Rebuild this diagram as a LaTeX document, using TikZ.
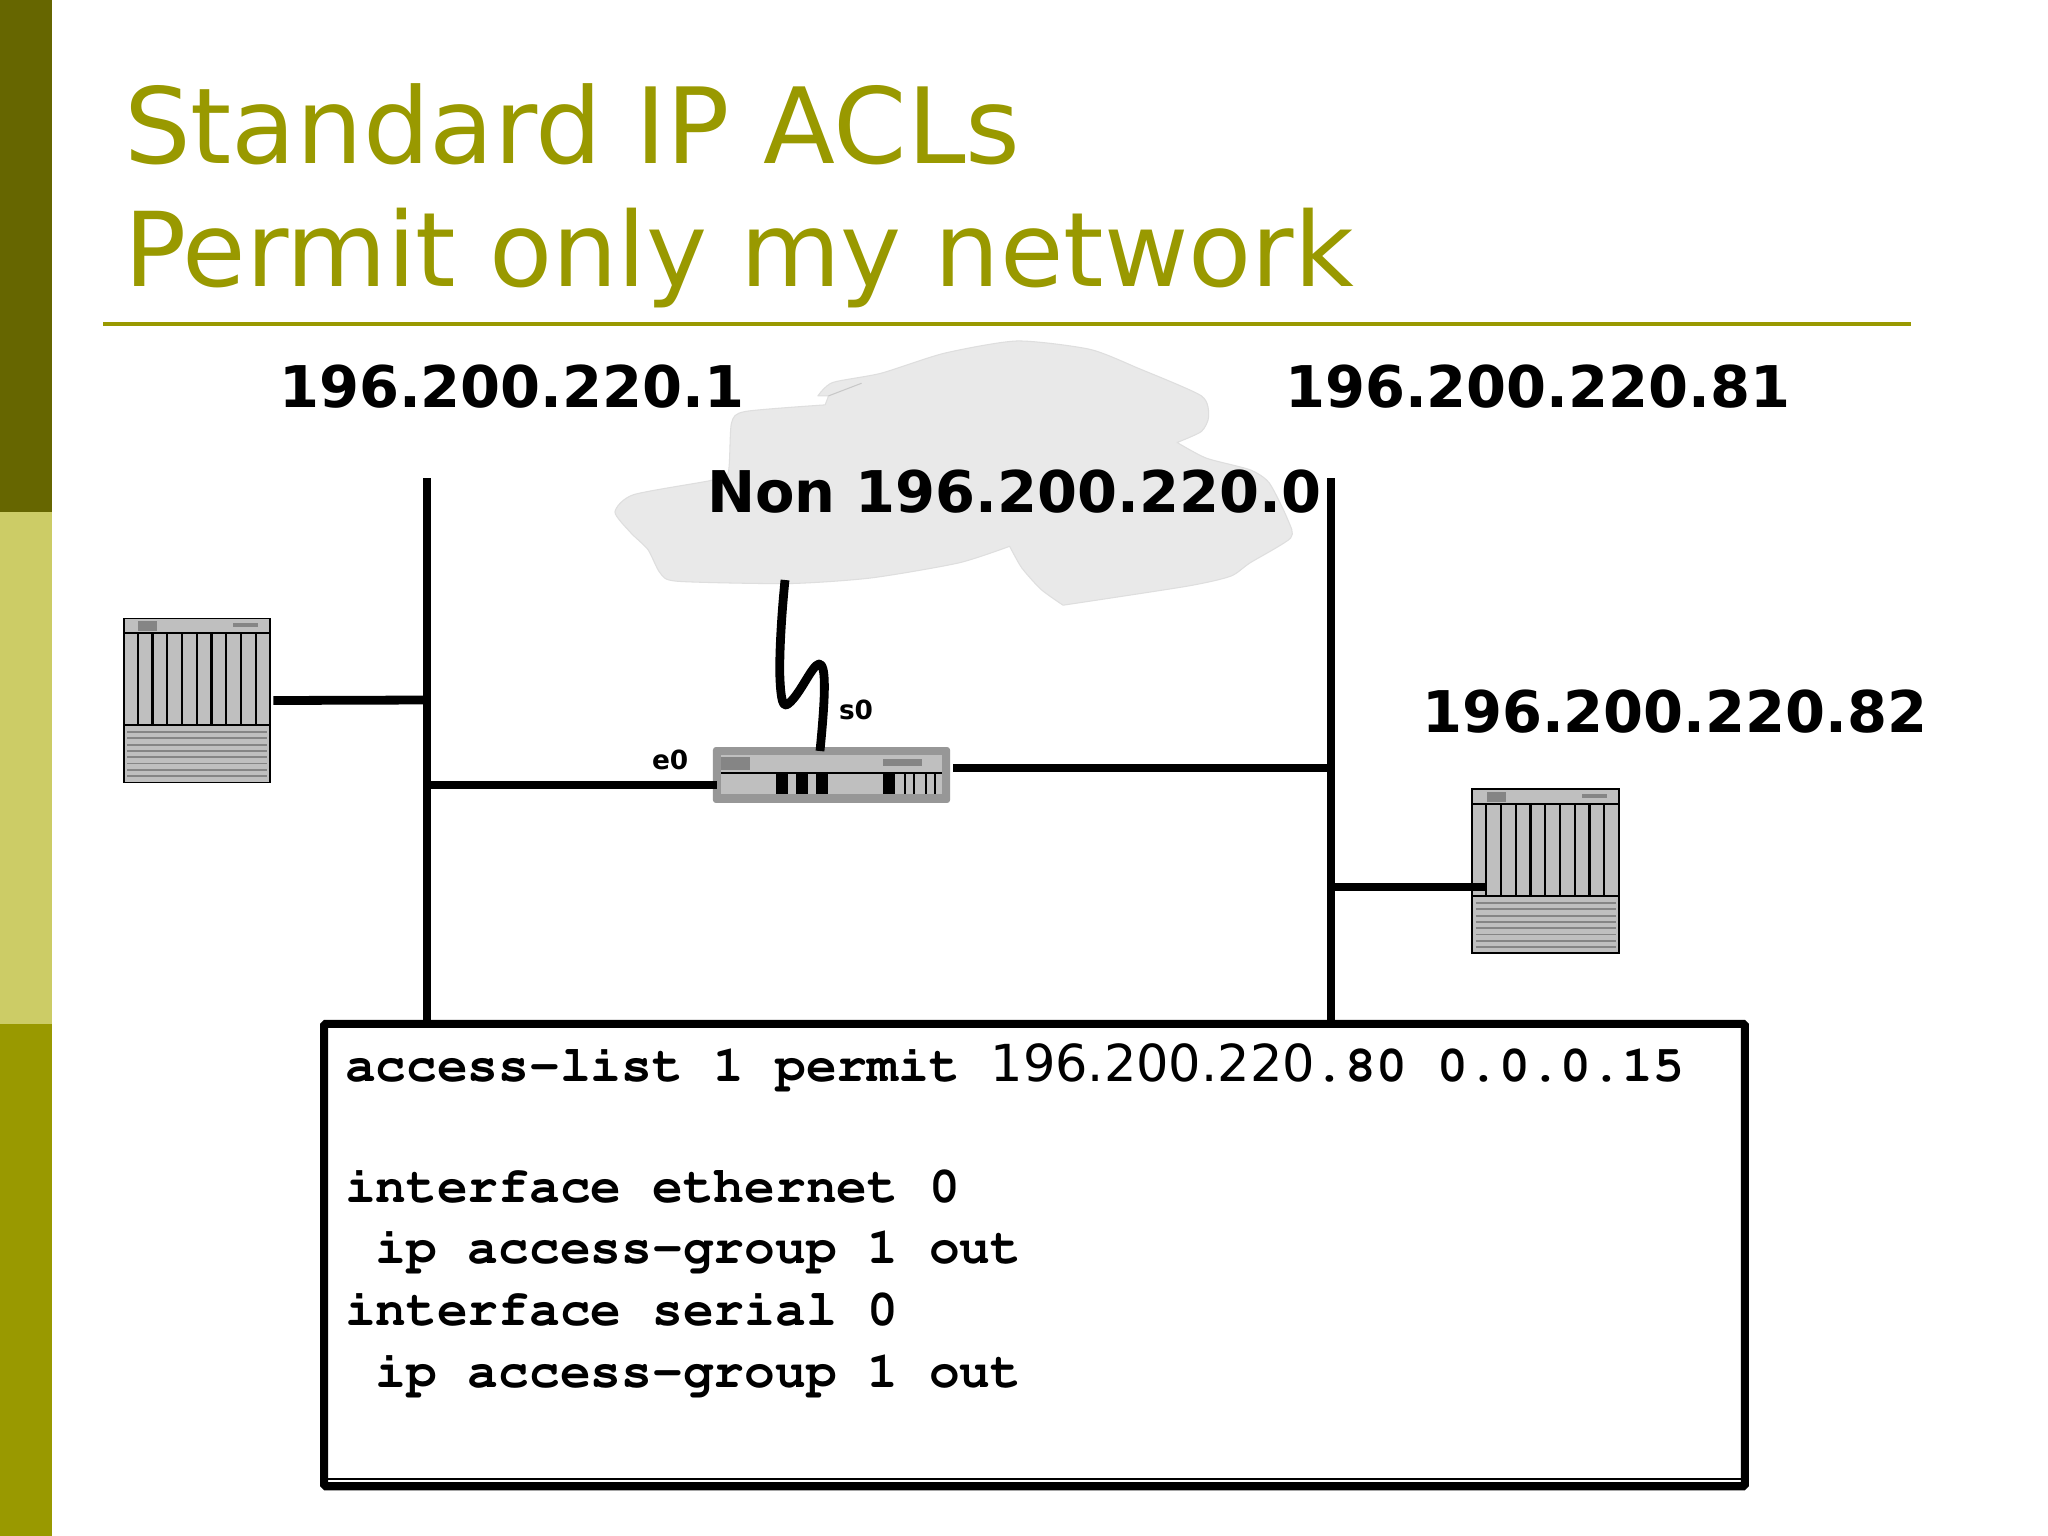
\documentclass[tikz,border=0pt]{standalone}
\usepackage{fontspec}
\setmainfont{DejaVu Sans}
\definecolor{oliveD}{HTML}{666600}
\definecolor{oliveM}{HTML}{CCCC66}
\definecolor{oliveB}{HTML}{999900}
\definecolor{devfill}{HTML}{BFBFBF}
\definecolor{devgray}{HTML}{858585}
\definecolor{cloudfill}{HTML}{E9E9E9}
\definecolor{cloudedge}{HTML}{DEDEDE}
\newcommand{\pxfont}[1]{\fontsize{#1}{#1}\selectfont}
\newcommand{\codefam}{\fontencoding{T1}\fontfamily{pcr}\fontseries{b}\fontshape{n}\selectfont}
\tikzset{
  x=0.01cm,y=-0.01cm,
  txt/.style={inner sep=0pt,outer sep=0pt,anchor=base west,text=black},
  titletxt/.style={txt,text=oliveB,font=\pxfont{29.35pt}},
  iplabel/.style={txt,font=\bfseries\pxfont{16.35pt}},
  portlabel/.style={txt,font=\bfseries\pxfont{7.5pt}},
  codeline/.style={txt,font=\codefam\pxfont{14.57pt}},
  wire/.style={draw=black,line width=2.5pt},
  bus/.style={draw=black,line width=2.2pt},
  hostbox/.style={draw=black,fill=devfill,line width=0.5pt,minimum width=41.6pt,minimum height=46.6pt,inner sep=0pt,outer sep=0.9pt},
  routerbox/.style={draw=none,fill=devgray!85!white,rounded corners=0.8pt,minimum width=67.4pt,minimum height=15.9pt,inner sep=0pt,outer sep=0.9pt},
  devline/.style={draw=black,line width=0.6pt},
  devstripe/.style={draw=devgray,line width=0.55pt},
  cfgbox/.style={draw=black,fill=white,line width=2.3pt,rounded corners=0.5pt,minimum width=404pt,minimum height=131.5pt,inner sep=0pt},
}
\newcommand{\hostdetail}[2]{%
  \begin{scope}[shift={(#1,#2)}]
    \fill[devgray] (15,3) rectangle (34,13);
    \fill[devgray] (110,5) rectangle (135,9);
    \draw[devline] (0,15) -- (148,15);
    \draw[devline] (0,107) -- (148,107);
    \foreach \i in {1,...,9} \draw[devline] ({\i*14.75},15) -- ({\i*14.75},107);
    \foreach \i in {0,...,7} \draw[devstripe] (4,{114+\i*6.3}) -- (144,{114+\i*6.3});
  \end{scope}}
\begin{document}
\begin{tikzpicture}
\useasboundingbox (0,0) rectangle (2048,1536);
\fill[white] (0,0) rectangle (2048,1536);
% side bars
\fill[oliveD] (0,0) rectangle (52,512);
\fill[oliveM] (0,512) rectangle (52,1024);
\fill[oliveB] (0,1024) rectangle (52,1536);
% title
\node[titletxt,font=\pxfont{29.9pt}] (t1) at (124,163) {Standard IP ACLs};
\node[titletxt] (t2) at (124,286) {Permit only my network};
\coordinate (ruleL) at (103,324);
\coordinate (ruleR) at (1911,324);
\draw[oliveB,line width=1.3pt] (ruleL) -- (ruleR);
% cloud
\begin{scope}[shift={(580,320)},x=0.004847cm,y=-0.003333cm]
\path[fill=cloudfill,draw=cloudedge,line width=0.3pt,line join=round]
 plot[smooth,tension=0.4] coordinates {(490,228)(520,188)(620,160)(750,100)(900,63)(1050,88)(1150,145)(1280,228)(1295,290)(1280,335)(1230,368)}
 -- plot[smooth,tension=0.4] coordinates {(1230,368)(1290,415)(1380,450)(1420,490)(1458,600)(1464,655)(1380,730)(1340,770)(1250,800)(995,857)}
 -- plot[smooth,tension=0.4] coordinates {(995,857)(950,810)(910,745)(885,680)}
 -- plot[smooth,tension=0.4] coordinates {(885,680)(780,730)(600,775)(430,792)(200,785)(165,760)(140,690)(105,640)(72,577)(110,525)(270,482)(305,460)(312,310)(340,275)(505,255)}
 -- (512,228) -- cycle;
\draw[cloudedge!90!black,line width=0.3pt] (512,228) -- (580,190);
\end{scope}
% labels
\node[iplabel] (ip1) at (279,407) {196.200.220.1};
\node[iplabel] (ip81) at (1285,407) {196.200.220.81};
\node[iplabel] (ip82) at (1422,732) {196.200.220.82};
\node[iplabel] (non) at (707,512) {Non 196.200.220.0};
\node[portlabel] (e0) at (652,769) {e0};
\node[portlabel] (s0) at (839,719) {s0};
% buses
\coordinate (busLt) at (427,478);
\coordinate (busRt) at (1331,478);
\coordinate (busLb) at (427,1030);
\coordinate (busRb) at (1331,1030);
\draw[bus] (busLt) -- (busLb);
\draw[bus] (busRt) -- (busRb);
\coordinate (jh1) at (427,700);
\coordinate (jrl) at (430,785);
\coordinate (jrr) at (1331,768);
\coordinate (jh2) at (1335,887);
\coordinate (h2port) at (1486,887);
% devices
\node[hostbox] (h1) at (197,700.5) {};
\hostdetail{123}{618}
\node[hostbox] (h2) at (1545.5,871) {};
\hostdetail{1471.5}{789}
\node[routerbox] (r) at (831.5,775) {};
\fill[devfill] (721,755) rectangle (942,794);
\fill[devgray] (721,757) rectangle (750,770);
\fill[devgray] (883,759) rectangle (922,766);
\draw[black,line width=0.45pt] (721,773) -- (942,773);
\foreach \a/\b in {776/788,796/808,816/828,883/895} \fill[black] (\a,774) rectangle (\b,794);
\foreach \a in {905,914,926,935} \draw[black,line width=0.4pt] (\a,774) -- (\a,794);
% connectors
\draw[wire] (h1.east) -- (jh1);
\draw[wire,line width=2.2pt] (jrl) -- (717,785);
\draw[wire,line width=2.2pt] (r.east |- jrr) -- (jrr);
\draw[wire] (jh2) -- (h2port);
\coordinate (serialTop) at (785,580);
\coordinate (serialEnd) at (820,751);
\draw[wire,line join=round] (serialTop) .. controls (781,620) and (779,660) .. (780,680)
  .. controls (781,700) and (783,708) .. (788,704)
  .. controls (800,695) and (812,665) .. (819,664)
  .. controls (826,664) and (826,690) .. (serialEnd);
% config box
\node[cfgbox] (cfg) at (1034.5,1255) {};
\draw[black,line width=0.35pt] (328,1479) -- (1741,1479);
\node[codeline] (c1) at (345,1081) {access-list 1 permit {\fontencoding{TU}\fontfamily{\rmdefault}\fontseries{m}\selectfont\pxfont{14.5pt}196.200.220}.80 0.0.0.15};
\node[codeline] (c2) at (345,1202) {interface ethernet 0};
\node[codeline] (c3) at (345,1263) {\ ip access-group 1 out};
\node[codeline] (c4) at (345,1325) {interface serial 0};
\node[codeline] (c5) at (345,1387) {\ ip access-group 1 out};
\end{tikzpicture}
\end{document}
